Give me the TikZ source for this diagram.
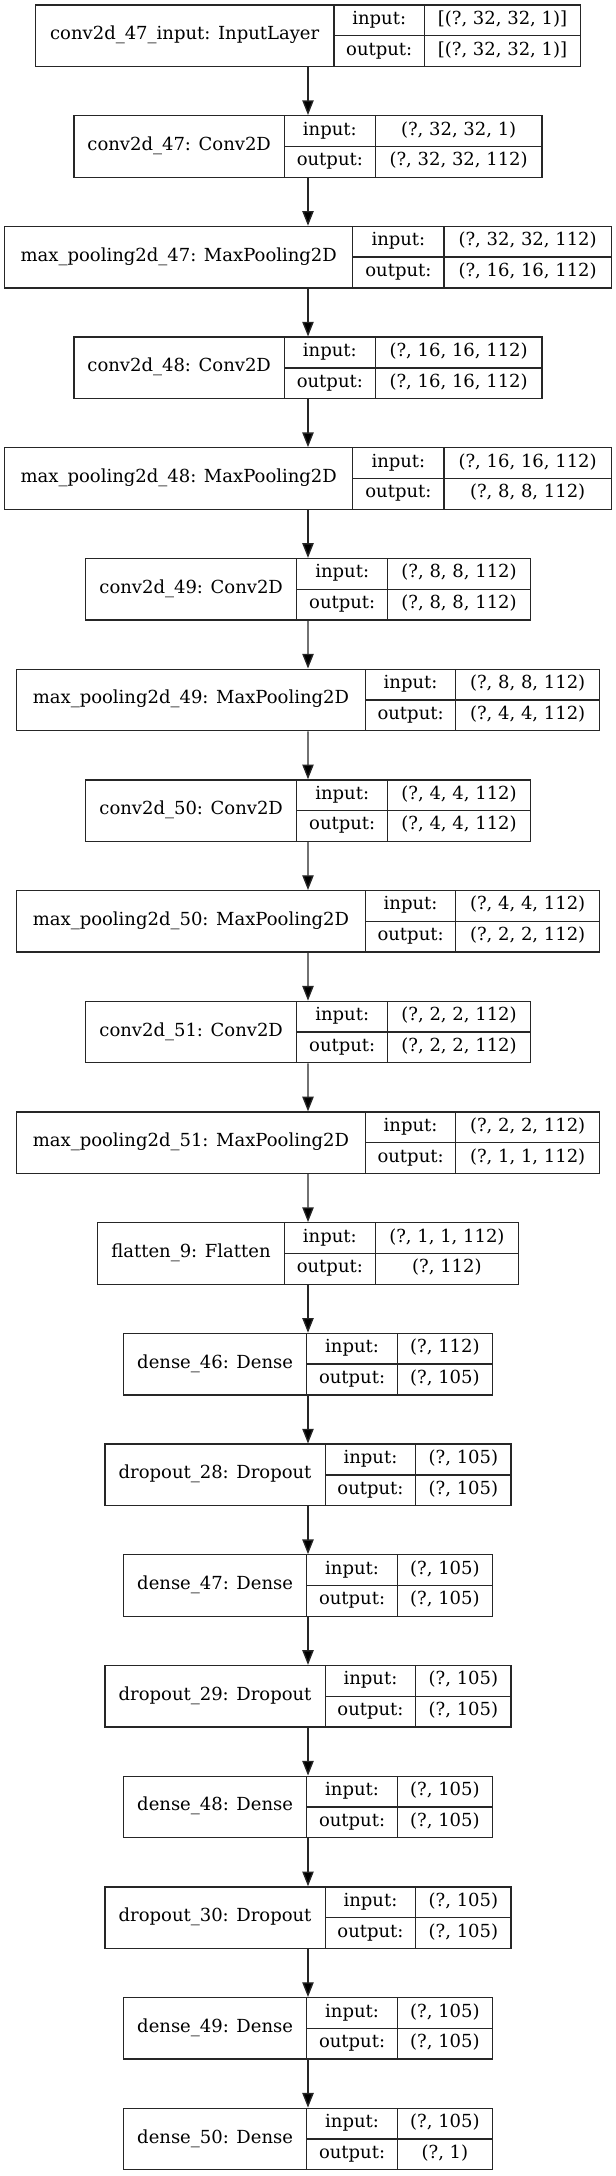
\documentclass[tikz,border=0pt]{standalone}
\usepackage{fontspec}
\setmainfont{DejaVu Serif}
\usetikzlibrary{arrows.meta, fit}

% one layer record: name, row, left edge, first split, second split, label, input, output
\newcommand{\layer}[8]{%
  \pgfmathsetmacro{\yt}{5+110.7*(#2-1)}
  \pgfmathsetmacro{\yb}{\yt+61.5}
  \pgfmathsetmacro{\ym}{\yt+30.75}
  \pgfmathsetmacro{\xr}{616-#3}
  \node[layerbox, fit={(#3,\yt) (\xr,\yb)}] (#1) {};
  \draw[cellline] (#4,\yt) -- (#4,\yb);
  \draw[cellline] (#5,\yt) -- (#5,\yb);
  \draw[cellline] (#4,\ym) -- (\xr,\ym);
  \node[txt] (#1-name) at ({(#3+#4)/2},\ym) {#6};
  \node[txt] (#1-ink) at ({(#4+#5)/2},\yt+15.4) {input:};
  \node[txt] (#1-outk) at ({(#4+#5)/2},\yt+46.1) {output:};
  \node[txt] (#1-inv) at ({(#5+\xr)/2},\yt+15.4) {#7};
  \node[txt] (#1-outv) at ({(#5+\xr)/2},\yt+46.1) {#8};
}

\begin{document}
\begin{tikzpicture}[
  x=0.75pt, y=-0.75pt,
  layerbox/.style={draw=black!85, line width=1pt, inner sep=0pt},
  cellline/.style={draw=black!85, line width=1pt},
  txt/.style={inner sep=0pt, font=\fontsize{13.5}{16}\selectfont, text height=1.6ex, text depth=0.45ex},
  arrow/.style={-{Triangle[length=11pt, width=8.5pt, fill=black]}, draw=black!85, line width=1pt}
]
\useasboundingbox (0,0) rectangle (616,2176);

% Input
\layer{inp}{1}{35.4}{334.0}{424.4}{conv2d\_47\_input: InputLayer}{[(?, 32, 32, 1)]}{[(?, 32, 32, 1)]}

% Convolution / pooling blocks
\layer{conv47}{2}{73.9}{284.5}{375.2}{conv2d\_47: Conv2D}{(?, 32, 32, 1)}{(?, 32, 32, 112)}
\layer{pool47}{3}{4.7}{352.8}{444.0}{max\_pooling2d\_47: MaxPooling2D}{(?, 32, 32, 112)}{(?, 16, 16, 112)}
\layer{conv48}{4}{73.9}{284.5}{375.2}{conv2d\_48: Conv2D}{(?, 16, 16, 112)}{(?, 16, 16, 112)}
\layer{pool48}{5}{4.7}{352.8}{444.0}{max\_pooling2d\_48: MaxPooling2D}{(?, 16, 16, 112)}{(?, 8, 8, 112)}
\layer{conv49}{6}{85.7}{296.7}{387.8}{conv2d\_49: Conv2D}{(?, 8, 8, 112)}{(?, 8, 8, 112)}
\layer{pool49}{7}{16.5}{365.4}{455.8}{max\_pooling2d\_49: MaxPooling2D}{(?, 8, 8, 112)}{(?, 4, 4, 112)}
\layer{conv50}{8}{85.7}{296.7}{387.8}{conv2d\_50: Conv2D}{(?, 4, 4, 112)}{(?, 4, 4, 112)}
\layer{pool50}{9}{16.5}{365.4}{455.8}{max\_pooling2d\_50: MaxPooling2D}{(?, 4, 4, 112)}{(?, 2, 2, 112)}
\layer{conv51}{10}{85.7}{296.7}{387.8}{conv2d\_51: Conv2D}{(?, 2, 2, 112)}{(?, 2, 2, 112)}
\layer{pool51}{11}{16.5}{365.4}{455.8}{max\_pooling2d\_51: MaxPooling2D}{(?, 2, 2, 112)}{(?, 1, 1, 112)}

% Dense part
\layer{flat9}{12}{97.4}{284.5}{375.2}{flatten\_9: Flatten}{(?, 1, 1, 112)}{(?, 112)}
\layer{dense46}{13}{123.8}{306.5}{397.6}{dense\_46: Dense}{(?, 112)}{(?, 105)}
\layer{drop28}{14}{104.9}{325.3}{415.7}{dropout\_28: Dropout}{(?, 105)}{(?, 105)}
\layer{dense47}{15}{123.8}{306.5}{397.6}{dense\_47: Dense}{(?, 105)}{(?, 105)}
\layer{drop29}{16}{104.9}{325.3}{415.7}{dropout\_29: Dropout}{(?, 105)}{(?, 105)}
\layer{dense48}{17}{123.8}{306.5}{397.6}{dense\_48: Dense}{(?, 105)}{(?, 105)}
\layer{drop30}{18}{104.9}{325.3}{415.7}{dropout\_30: Dropout}{(?, 105)}{(?, 105)}
\layer{dense49}{19}{123.8}{306.5}{397.6}{dense\_49: Dense}{(?, 105)}{(?, 105)}
\layer{dense50}{20}{123.8}{306.5}{397.6}{dense\_50: Dense}{(?, 105)}{(?, 1)}

% Arrows between layers
\foreach \a/\b in {inp/conv47, conv47/pool47, pool47/conv48, conv48/pool48,
  pool48/conv49, conv49/pool49, pool49/conv50, conv50/pool50, pool50/conv51,
  conv51/pool51, pool51/flat9, flat9/dense46, dense46/drop28, drop28/dense47,
  dense47/drop29, drop29/dense48, dense48/drop30, drop30/dense49, dense49/dense50}
  \draw[arrow] (\a.south) -- (\b.north);

\end{tikzpicture}
\end{document}
